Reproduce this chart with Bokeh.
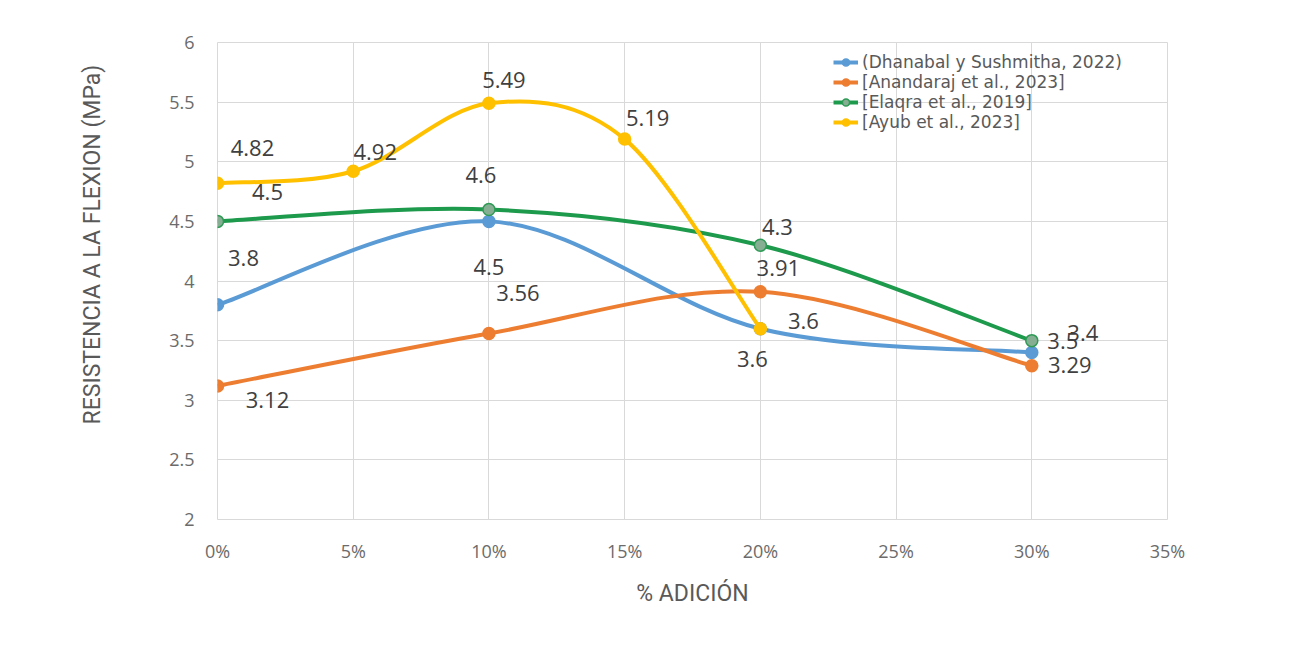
from bokeh.plotting import figure
from bokeh.models import (Range1d, FixedTicker, Legend, LegendItem, Title,
                          ColumnDataSource)
from bokeh.core.properties import value
from bokeh.embed import file_html
from bokeh.resources import INLINE

# ---------------- data ----------------
series_names = ["(Dhanabal y Sushmitha, 2022)", "[Anandaraj et al., 2023]",
                "[Elaqra et al., 2019]", "[Ayub et al., 2023]"]
dhanabal_x = [0, 10, 20, 30]
dhanabal_y = [3.8, 4.5, 3.6, 3.4]
anandaraj_x = [0, 10, 20, 30]
anandaraj_y = [3.12, 3.56, 3.91, 3.29]
elaqra_x = [0, 10, 20, 30]
elaqra_y = [4.5, 4.6, 4.3, 3.5]
ayub_x = [0, 5, 10, 15, 20]
ayub_y = [4.82, 4.92, 5.49, 5.19, 3.6]

x_ticks = [0, 5, 10, 15, 20, 25, 30, 35]
x_tick_labels = ["0%", "5%", "10%", "15%", "20%", "25%", "30%", "35%"]
y_ticks = [2, 2.5, 3, 3.5, 4, 4.5, 5, 5.5, 6]
y_tick_labels = ["2", "2.5", "3", "3.5", "4", "4.5", "5", "5.5", "6"]

# ---------------- styles ----------------
line_colors = ["#5B9BD5", "#ED7D31", "#1E9A4C", "#FFC000"]
marker_fill = ["#5B9BD5", "#ED7D31", "#86AE93", "#FFC000"]
marker_line = ["#5B9BD5", "#ED7D31", "#2E9A55", "#FFC000"]
# label pixel offsets (dx, dy; dy positive = down) per point
label_offsets = [
    [(26, -47), (0, 46), (43, -8), (51, -20)],
    [(50, 14), (29, -40), (18, -24), (38, -1)],
    [(50, -29), (-8, -34), (17, -18), (31, 0)],
    [(35, -35), (22, -19), (15, -23), (23, -21), (-8, 30)],
]
# legend entry vertical positions (px above the frame bottom)
legend_y = [447, 427, 407, 387]

W, H = 1293, 638
p = figure(width=W, height=H, output_backend="svg", toolbar_location=None,
           x_range=Range1d(0, 35), y_range=Range1d(2, 6),
           min_border_left=217, min_border_right=126,
           min_border_top=42, min_border_bottom=119)
p.background_fill_color = "white"
p.border_fill_color = "white"
p.outline_line_color = "#D9D9D9"
p.outline_line_width = 1

p.xaxis.ticker = FixedTicker(ticks=x_ticks)
p.xaxis.major_label_overrides = dict(zip(x_ticks, x_tick_labels))
p.yaxis.ticker = FixedTicker(ticks=y_ticks)
p.yaxis.major_label_overrides = dict(zip(y_ticks, y_tick_labels))
for ax in (p.xaxis[0], p.yaxis[0]):
    ax.axis_line_color = None
    ax.major_tick_line_color = None
    ax.minor_tick_line_color = None
    ax.major_label_text_color = "#6B6B6B"
    ax.major_label_text_font = "Open Sans"
    ax.major_label_text_font_size = "18px"
p.yaxis.major_label_standoff = 17
p.xaxis.major_label_standoff = 13
p.xaxis.axis_label = "% ADICIÓN"
p.xaxis.axis_label_text_font = "Roboto"
p.xaxis.axis_label_text_font_style = "normal"
p.xaxis.axis_label_text_font_size = "23px"
p.xaxis.axis_label_text_color = "#595959"
p.xaxis.axis_label_standoff = 14

p.xgrid.ticker = FixedTicker(ticks=x_ticks)
p.ygrid.ticker = FixedTicker(ticks=y_ticks)
p.xgrid.grid_line_color = "#D9D9D9"
p.ygrid.grid_line_color = "#D9D9D9"

# y axis title (Excel places it a little above the plot centre)
p.add_layout(Title(text="RESISTENCIA A LA FLEXION  (MPa)", align="left",
                   offset=95, standoff=122, text_font="Roboto",
                   text_font_size="23px", text_font_style="normal",
                   text_color="#595959"), "left")


def smooth_controls(xs, ys):
    """Excel-style smoothed line: cubic Bezier control points per segment."""
    n = len(xs)
    segs = dict(x0=[], y0=[], x1=[], y1=[], cx0=[], cy0=[], cx1=[], cy1=[])
    for i in range(n - 1):
        xa, ya = xs[max(i - 1, 0)], ys[max(i - 1, 0)]
        x1, y1 = xs[i], ys[i]
        x2, y2 = xs[i + 1], ys[i + 1]
        xb, yb = xs[min(i + 2, n - 1)], ys[min(i + 2, n - 1)]
        segs["x0"].append(x1); segs["y0"].append(y1)
        segs["x1"].append(x2); segs["y1"].append(y2)
        segs["cx0"].append(x1 + (x2 - xa) / 6); segs["cy0"].append(y1 + (y2 - ya) / 6)
        segs["cx1"].append(x2 - (xb - x1) / 6); segs["cy1"].append(y2 - (yb - y1) / 6)
    return segs


all_x = [dhanabal_x, anandaraj_x, elaqra_x, ayub_x]
all_y = [dhanabal_y, anandaraj_y, elaqra_y, ayub_y]
for k in range(4):
    xs, ys = all_x[k], all_y[k]
    src = ColumnDataSource(smooth_controls(xs, ys))
    b = p.bezier(x0="x0", y0="y0", x1="x1", y1="y1", cx0="cx0", cy0="cy0",
                 cx1="cx1", cy1="cy1", source=src, line_color=line_colors[k],
                 line_width=4)
    s = p.scatter(xs, ys, size=12, marker="circle", fill_color=marker_fill[k],
                  line_color=marker_line[k], line_width=1.5)
    lg = Legend(items=[LegendItem(label=series_names[k], renderers=[b, s])],
                location=(616, legend_y[k]), padding=0, margin=0,
                glyph_width=25, glyph_height=18, label_height=18,
                label_standoff=4, label_text_font="DejaVu Sans",
                label_text_font_size="17px", label_text_color="#595959",
                background_fill_alpha=0, border_line_color=None)
    p.add_layout(lg)

for k in range(4):
    xs, ys = all_x[k], all_y[k]
    offs = label_offsets[k]
    for i in range(len(xs)):
        p.text(x=[xs[i]], y=[ys[i]], text=[f"{ys[i]:g}"],
               x_offset=offs[i][0], y_offset=offs[i][1],
               text_align="center", text_baseline="middle",
               text_font=value("Open Sans"), text_font_size="22px",
               text_color="#404040")

open("out.html", "w").write(file_html(p, INLINE))
